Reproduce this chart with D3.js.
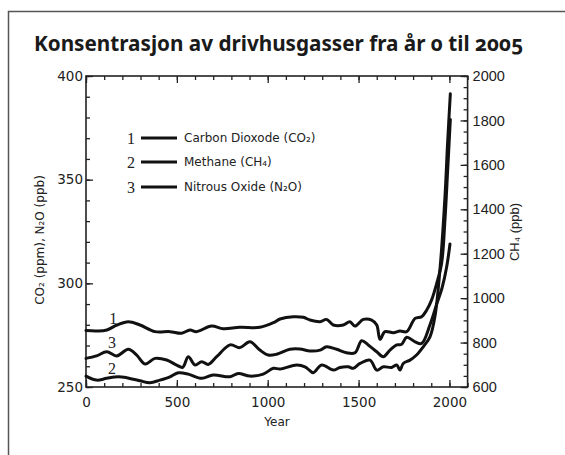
<!DOCTYPE html>
<html><head><meta charset="utf-8">
<script src="https://cdn.jsdelivr.net/npm/d3@7"></script>
<style>
html,body{margin:0;padding:0;background:#fff;}
svg{display:block;}
</style></head>
<body>
<svg id="c" width="565" height="455"></svg>
<script>
const title = "Konsentrasjon av drivhusgasser fra år 0 til 2005";
const xTicks = [0, 500, 1000, 1500, 2000];
const leftTicks = [250, 300, 350, 400];
const rightTicks = [600, 800, 1000, 1200, 1400, 1600, 1800, 2000];
const seriesNames = ["Carbon Dioxode (CO₂)", "Methane (CH₄)", "Nitrous Oxide (N₂O)"];
const seriesNums = ["1", "2", "3"];

const co2Years = [0, 60, 115, 170, 233, 297, 380, 462, 526, 572, 608, 691, 755, 847, 957, 1031, 1068, 1141, 1196, 1233, 1288, 1324, 1361, 1416, 1452, 1480, 1526, 1572, 1600, 1618, 1645, 1691, 1728, 1765, 1811, 1847, 1875, 1902, 1930, 1957, 1975, 1990, 2005];
const co2Values = [277.2, 277.0, 277.5, 279.9, 281.5, 279.9, 276.7, 276.7, 275.9, 277.5, 276.7, 279.4, 278.1, 278.8, 278.8, 281.0, 282.8, 283.9, 283.6, 282.3, 281.5, 282.6, 279.9, 279.9, 281.5, 279.4, 282.6, 282.3, 279.9, 273.0, 276.7, 276.2, 277.0, 276.7, 283.1, 283.9, 287.1, 292.0, 300.0, 309.7, 330, 354, 379];

const ch4Years = [0, 58, 114, 177, 223, 297, 352, 407, 462, 508, 563, 637, 700, 793, 838, 902, 975, 1031, 1068, 1159, 1205, 1233, 1251, 1297, 1361, 1398, 1443, 1471, 1508, 1563, 1600, 1636, 1682, 1710, 1728, 1746, 1783, 1819, 1856, 1893, 1920, 1950, 1975, 1990, 2005];
const ch4Values = [649, 631, 639, 646, 642, 628, 619, 631, 646, 664, 658, 639, 654, 646, 661, 649, 658, 684, 681, 699, 691, 673, 664, 699, 676, 688, 691, 684, 706, 721, 676, 691, 688, 699, 676, 706, 721, 744, 781, 826, 916, 1150, 1450, 1700, 1920];

const n2oYears = [0, 58, 114, 169, 233, 279, 325, 380, 444, 499, 532, 563, 600, 637, 673, 719, 793, 847, 902, 957, 1003, 1049, 1122, 1177, 1233, 1288, 1324, 1379, 1434, 1480, 1517, 1553, 1600, 1636, 1673, 1710, 1737, 1765, 1811, 1847, 1893, 1930, 1960, 1985, 2003];
const n2oValues = [263.8, 265.0, 267.0, 265.0, 268.2, 265.4, 261.1, 263.8, 263.0, 260.6, 259.5, 264.6, 260.6, 262.2, 260.9, 264.6, 270.3, 269.0, 271.8, 267.8, 265.4, 265.8, 268.2, 268.3, 267.4, 267.8, 269.4, 268.2, 266.5, 266.5, 272.3, 270.3, 267.0, 264.6, 267.8, 270.3, 270.6, 274.0, 271.8, 271.0, 280, 290, 298, 308, 319];

const svg = d3.select("#c");
const L = 86, R = 467.6, T = 76, B = 387;
const x = d3.scaleLinear().domain([0, 2100]).range([L, R]);
const yL = d3.scaleLinear().domain([250, 400]).range([B, T]);
const yR = d3.scaleLinear().domain([600, 2000]).range([B, T]);

svg.append("rect").attr("x", 8.5).attr("y", 11.5).attr("width", 600).attr("height", 500)
  .attr("fill", "none").attr("stroke", "#555").attr("stroke-width", 1.5);

svg.append("text").attr("x", 34).attr("y", 51).text(title)
  .style("font-family", "'Noto Sans'").style("font-weight", 700).style("font-size", "20.7px")
  .style("font-variant-numeric", "oldstyle-nums").attr("fill", "#1a1a1a");

const tickFont = "'DejaVu Sans'";
function style(g, font, size) {
  g.select(".domain").remove();
  g.selectAll("line").attr("stroke", "#222").attr("stroke-width", 1.3);
  g.selectAll("text").style("font-family", font).style("font-size", size).attr("fill", "#222");
}
const minorX = d3.range(0, 2101, 100);
svg.append("g").attr("transform", `translate(0,${B})`)
  .call(d3.axisBottom(x).tickValues(minorX).tickSize(-4).tickFormat("")).call(g => style(g, tickFont, "13px"));
svg.append("g").attr("transform", `translate(0,${T})`)
  .call(d3.axisTop(x).tickValues(minorX).tickSize(-4).tickFormat("")).call(g => style(g, tickFont, "13px"));
svg.append("g").attr("transform", `translate(${L},0)`)
  .call(d3.axisLeft(yL).tickValues(d3.range(250, 401, 10)).tickSize(-4).tickFormat("")).call(g => style(g, tickFont, "13px"));
svg.append("g").attr("transform", `translate(${R},0)`)
  .call(d3.axisRight(yR).tickValues(d3.range(600, 2001, 50)).tickSize(-4).tickFormat("")).call(g => style(g, tickFont, "13px"));
svg.append("g").attr("transform", `translate(0,${B})`)
  .call(d3.axisBottom(x).tickValues(xTicks).tickSize(-7).tickPadding(10).tickFormat(d3.format("d"))).call(g => style(g, tickFont, "13.5px"));
svg.append("g").attr("transform", `translate(0,${T})`)
  .call(d3.axisTop(x).tickValues(xTicks).tickSize(-7).tickFormat("")).call(g => style(g, tickFont, "13px"));
svg.append("g").attr("transform", `translate(${L},0)`)
  .call(d3.axisLeft(yL).tickValues(leftTicks).tickSize(-7).tickPadding(3).tickFormat(d3.format("d"))).call(g => style(g, tickFont, "13.5px"));
svg.append("g").attr("transform", `translate(${R},0)`)
  .call(d3.axisRight(yR).tickValues(rightTicks).tickSize(-7).tickPadding(5).tickFormat(d3.format("d"))).call(g => style(g, "'Liberation Sans'", "14.5px"));

svg.append("rect").attr("x", L).attr("y", T).attr("width", R - L).attr("height", B - T)
  .attr("fill", "none").attr("stroke", "#222").attr("stroke-width", 1.6);

svg.append("text").attr("x", 277).attr("y", 426).attr("text-anchor", "middle").text("Year")
  .style("font-family", tickFont).style("font-size", "12px").attr("fill", "#222");
svg.append("text").attr("transform", "translate(44,240) rotate(-90)").attr("text-anchor", "middle")
  .text("CO₂ (ppm), N₂O (ppb)").style("font-family", tickFont).style("font-size", "12px").attr("fill", "#222");
svg.append("text").attr("transform", "translate(519,232) rotate(-90)").attr("text-anchor", "middle")
  .text("CH₄ (ppb)").style("font-family", "'Liberation Sans'").style("font-size", "13px").attr("fill", "#222");

const lineL = d3.line().x(d => x(d[0])).y(d => yL(d[1])).curve(d3.curveCatmullRom);
const lineR = d3.line().x(d => x(d[0])).y(d => yR(d[1])).curve(d3.curveCatmullRom);
const series = [
  {pts: d3.zip(co2Years, co2Values), gen: lineL},
  {pts: d3.zip(ch4Years, ch4Values), gen: lineR},
  {pts: d3.zip(n2oYears, n2oValues), gen: lineL}
];
svg.append("g").selectAll("path").data(series).join("path")
  .attr("d", s => s.gen(s.pts)).attr("fill", "none").attr("stroke", "#111")
  .attr("stroke-width", 3).attr("stroke-linejoin", "round").attr("stroke-linecap", "round");

const numAt = [[150, 283.3, yL], [143, 259.2, yL], [143, 271.7, yL]];
svg.append("g").selectAll("text").data(numAt).join("text")
  .attr("x", d => x(d[0])).attr("y", d => d[2](d[1])).attr("dy", "0.35em").attr("text-anchor", "middle")
  .text((d, i) => seriesNums[i]).style("font-family", "'Liberation Serif'").style("font-size", "16px").attr("fill", "#222");

const legY = [138, 162, 187];
const leg = svg.append("g").selectAll("g").data(seriesNames).join("g")
  .attr("transform", (d, i) => `translate(0,${legY[i]})`);
leg.append("text").attr("x", 131).attr("dy", "0.35em").attr("text-anchor", "middle")
  .text((d, i) => seriesNums[i]).style("font-family", "'Liberation Serif'").style("font-size", "16px").attr("fill", "#222");
leg.append("line").attr("x1", 141).attr("x2", 177).attr("stroke", "#111").attr("stroke-width", 3);
leg.append("text").attr("x", 184).attr("dy", "0.35em").text(d => d)
  .style("font-family", tickFont).style("font-size", "12px").attr("fill", "#222");
</script>
</body></html>
